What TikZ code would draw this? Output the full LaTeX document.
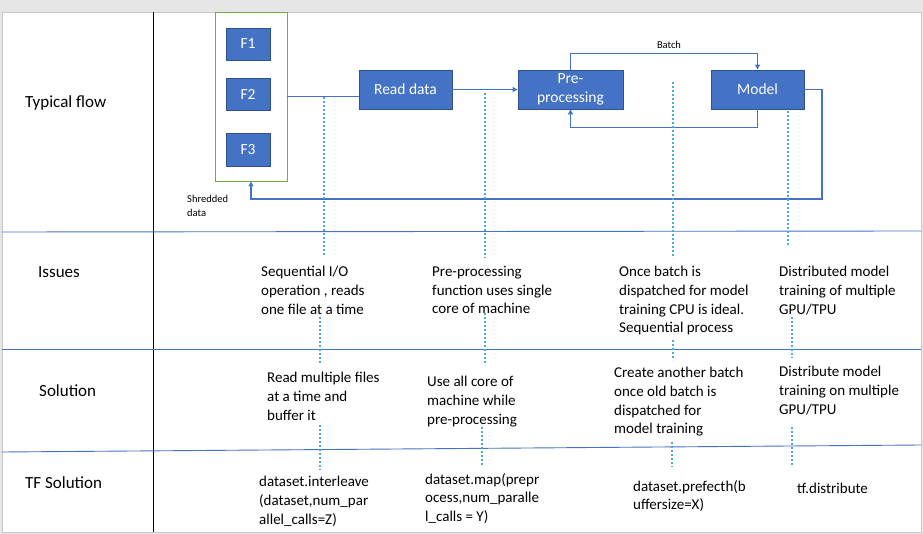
\documentclass[tikz,border=0pt]{standalone}
\usepackage{fontspec}
\setmainfont{Carlito}
\usetikzlibrary{arrows.meta}
\definecolor{boxblue}{HTML}{4472C4}
\definecolor{boxedge}{HTML}{2F528F}
\definecolor{flowline}{HTML}{4472C4}
\definecolor{grpgreen}{HTML}{70AD47}
\definecolor{dotcol}{HTML}{4BACC6}
\definecolor{bggray}{HTML}{E6E6E6}
\definecolor{framegray}{HTML}{C8C8C8}
\tikzset{
  blk/.style={draw=boxedge, fill=boxblue, line width=0.9pt, text=white, font=\fontsize{15.5}{19}\selectfont, align=center, inner sep=0pt},
  flow/.style={draw=flowline, line width=1.1pt},
  arr/.style={flow, -{Triangle[length=5pt,width=5pt]}},
  sep/.style={draw=flowline, line width=0.9pt},
  dots/.style={draw=dotcol, line width=2pt, dash pattern=on 2pt off 2pt},
  rowlabel/.style={anchor=base west, inner sep=0pt, font=\fontsize{17}{20}\selectfont},
  body/.style={anchor=north west, inner sep=0pt, align=left, font=\fontsize{15}{18.7}\selectfont},
  small/.style={inner sep=0pt, align=left, font=\fontsize{10.5}{14}\selectfont}
}
\begin{document}
\begin{tikzpicture}[x=1pt,y=-1pt]
\useasboundingbox (0,0) rectangle (923,534);
\fill[bggray] (0,0) rectangle (923,534);
\filldraw[fill=white, draw=framegray, line width=0.8pt] (2,12) rectangle (921,532);

% grid lines
\draw[black, line width=0.9pt] (153,12) -- (153,532);
\draw[sep] (2,232) -- (921,231);
\draw[sep] (2,349) -- (921,349);
\draw[sep] (2,452) -- (921,445);

% row labels
\node[rowlabel] (lflow) at (25,108) {Typical flow};
\node[rowlabel] (liss) at (38,278) {Issues};
\node[rowlabel] (lsol) at (39,396) {Solution};
\node[rowlabel] (ltf) at (25,488) {TF Solution};

% flow diagram
\node[draw=grpgreen, line width=0.9pt, minimum width=72pt, minimum height=169pt, inner sep=0pt] (files) at (251,96.5) {};
\node[blk, minimum width=44pt, minimum height=32pt] (f1) at (248,44) {F1};
\node[blk, minimum width=44pt, minimum height=32pt] (f2) at (248,94.5) {F2};
\node[blk, minimum width=44pt, minimum height=33pt] (f3) at (248,149.5) {F3};
\node[blk, minimum width=93pt, minimum height=39pt] (read) at (405.5,89.5) {Read data};
\node[blk, minimum width=105pt, minimum height=39pt] (pre) at (570.5,89.5) {Pre-\\processing};
\node[blk, minimum width=93pt, minimum height=39pt] (model) at (757.5,89.5) {Model};

\draw[flow] (files.east) -- (files.east -| read.west);
\draw[arr] (read.east) -- (pre.west);
\draw[arr] (pre.north) -- ++(0,-16) coordinate (bt) -| (model.north);
\node[small, anchor=south] (batch) at (669,49) {Batch};
\draw[arr] (model.south) -- ++(0,18) -| (pre.south);
\coordinate (rt) at (822,199);
\draw[arr] (model.east) -| (rt) -| (files.south);
\node[small, anchor=north west] (shred) at (187,195) {Shredded\\data};

% issues
\node[body] (i1) at (261,266) {Sequential I/O\\operation , reads\\one file at a time};
\node[body] (i2) at (432,266) {Pre-processing\\function uses single\\core of machine};
\node[body] (i3) at (619,266) {Once batch is\\dispatched for model\\training CPU is ideal.\\Sequential process};
\node[body] (i4) at (779,266) {Distributed model\\training of multiple\\GPU/TPU};

% solutions
\node[body] (s1) at (267,372) {Read multiple files\\at a time and\\buffer it};
\node[body] (s2) at (427,376) {Use all core of\\machine while\\pre-processing};
\node[body] (s3) at (614,367) {Create another batch\\once old batch is\\dispatched for\\model training};
\node[body] (s4) at (779,366) {Distribute model\\training on multiple\\GPU/TPU};

% tf solutions
\node[body] (t1) at (259,476) {dataset.interleave\\(dataset,num\_par\\allel\_calls=Z)};
\node[body] (t2) at (425,473) {dataset.map(prepr\\ocess,num\_paralle\\l\_calls = Y)};
\node[body] (t3) at (633,480) {dataset.prefecth(b\\uffersize=X)};
\node[body] (t4) at (797,483) {tf.distribute};

% dotted guides
\draw[dots] (323.5,97) -- (323.5,255);
\draw[dots] (320,317) -- (320,363);
\draw[dots] (320,425) -- (320,470);
\draw[dots] (485,93) -- (485,258);
\draw[dots] (485,313) -- (485,365);
\draw[dots] (482,427) -- (482,465);
\draw[dots] (673,82) -- (673,258);
\draw[dots] (673,340) -- (673,360);
\draw[dots] (672,442) -- (672,467);
\draw[dots] (788,111) -- (788,245);
\draw[dots] (792,317) -- (792,358);
\draw[dots] (792,427) -- (792,467);
\end{tikzpicture}
\end{document}
